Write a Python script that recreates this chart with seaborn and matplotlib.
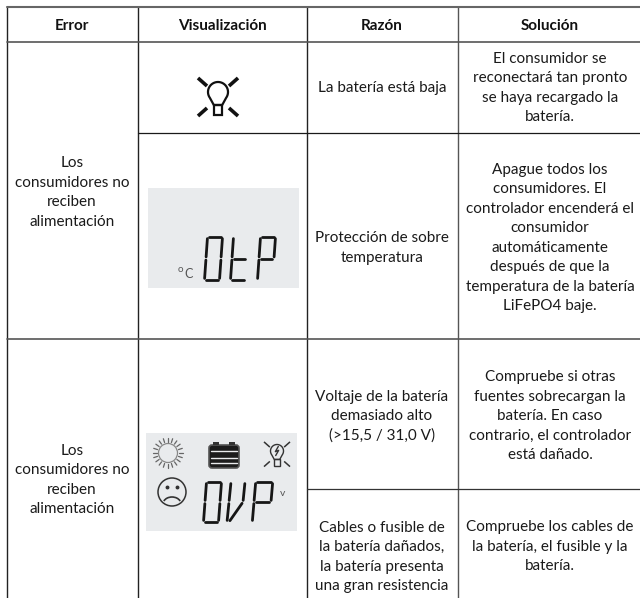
"""Tabla de errores - recreated with seaborn/matplotlib"""
import numpy as np
import matplotlib
matplotlib.use("Agg")
import matplotlib.pyplot as plt
from matplotlib.patches import Rectangle, Circle, FancyBboxPatch, Arc, Polygon
import seaborn as sns

W, H = 640, 598

headers = ["Error", "Visualización", "Razón", "Solución"]
error_text = ["Los", "consumidores no", "reciben", "alimentación"]
reasons = [
    ["La batería está baja"],
    ["Protección de sobre", "temperatura"],
    ["Voltaje de la batería", "demasiado alto", "(>15,5 / 31,0 V)"],
    ["Cables o fusible de", "la batería dañados,", "la batería presenta", "una gran resistencia"],
]
solutions = [
    ["El consumidor se", "reconectará tan pronto", "se haya recargado la", "batería."],
    ["Apague todos los", "consumidores. El", "controlador encenderá el", "consumidor",
     "automáticamente", "después de que la", "temperatura de la batería", "LiFePO4 baje."],
    ["Compruebe si otras", "fuentes sobrecargan la", "batería. En caso", "contrario, el controlador", "está dañado."],
    ["Compruebe los cables de", "la batería, el fusible y la", "batería."],
]
col_x = [6.5, 137.5, 307, 457.5]
col_mid = [72, 222.5, 382, 550]
row_y = [6.5, 41.5, 133, 339, 489]
reason_mid = [88, 248, 416, 557]
solution_mid = [88, 238, 416, 547]
error_mid = [192.5, 480]
PITCH = 19.5
INK = "#1a1a1a"
PANEL = "#e9ebed"

SEGS = {"0": "abcdef", "t": "defg", "P": "abefg"}


def cell_text(ax, x, yc, lines, **kw):
    y0 = yc - PITCH * (len(lines) - 1) / 2
    for i, s in enumerate(lines):
        ax.text(x, y0 + i * PITCH, s, ha="center", va="center", color=INK, fontsize=11, **kw)


def seg_line(ax, p, q, gap=1.6, lw=2.0):
    p, q = np.array(p, float), np.array(q, float)
    d = (q - p) / np.hypot(*(q - p)) * gap
    a, b = p + d, q - d
    ax.plot([a[0], b[0]], [a[1], b[1]], color="#161616", lw=lw, solid_capstyle="round")


def seg7(ax, ch, x, y, w, h):
    s = 0.10 * w
    pts = {"tl": (x + s, y), "tr": (x + w + s, y), "ml": (x, y + h / 2), "mr": (x + w, y + h / 2),
           "bl": (x - s, y + h), "br": (x + w - s, y + h)}
    lines = {"a": ("tl", "tr"), "b": ("tr", "mr"), "c": ("mr", "br"), "d": ("bl", "br"),
             "e": ("ml", "bl"), "f": ("tl", "ml"), "g": ("ml", "mr")}
    for k in SEGS[ch]:
        seg_line(ax, pts[lines[k][0]], pts[lines[k][1]])


def bulb(ax, cx, cy, r, lw, ray_lw, color="#111111", bolt=False):
    # ampolla: arco superior y cuello en un solo contorno
    t = np.radians(np.linspace(-35, 215, 60))
    gx = cx + r * np.cos(t)
    gy = cy - r * np.sin(t)
    outline = np.column_stack([np.r_[gx, cx - 0.42 * r, cx + 0.42 * r],
                               np.r_[gy, cy + 1.3 * r, cy + 1.3 * r]])
    ax.add_patch(Polygon(outline, closed=True, fill=False, ec=color, lw=lw))
    ax.add_patch(Rectangle((cx - 0.42 * r, cy + 1.3 * r), 0.84 * r, 0.95 * r, fill=False, ec=color, lw=lw))
    for sx in (-1, 1):
        ax.plot([cx + sx * 2.0 * r, cx + sx * 1.1 * r], [cy - 1.4 * r, cy - 0.6 * r],
                color=color, lw=ray_lw, solid_capstyle="butt")
        ax.plot([cx + sx * 2.0 * r, cx + sx * 1.1 * r], [cy + 2.4 * r, cy + 1.6 * r],
                color=color, lw=ray_lw, solid_capstyle="butt")
    if bolt:
        ax.plot([cx + 0.2 * r, cx - 0.25 * r, cx + 0.25 * r, cx - 0.2 * r],
                [cy - 0.7 * r, cy + 0.1 * r, cy - 0.1 * r, cy + 0.7 * r], color=color, lw=lw)


sns.set_theme(style="white")
plt.rcParams["font.family"] = ["Lato", "DejaVu Sans"]
fig = plt.figure(figsize=(W / 100, H / 100), dpi=100)
ax = fig.add_axes([0, 0, 1, 1])
ax.set_xlim(0, W); ax.set_ylim(H, 0); ax.axis("off")

# paneles LCD (debajo de la rejilla)
ax.add_patch(Rectangle((148, 188), 151, 100, fc=PANEL, ec="none"))
ax.add_patch(Rectangle((146, 433), 151, 98, fc=PANEL, ec="none"))

# rejilla
for x, c in zip(col_x, ["#222222", "#222222", "#222222", "#555555"]):
    ax.plot([x, x], [row_y[0], H], color=c, lw=1.0)
ax.plot([col_x[0], W], [row_y[0]] * 2, color="#666666", lw=1.5)
ax.plot([col_x[0], W], [row_y[1]] * 2, color="#555555", lw=1.2)
ax.plot([col_x[1], W], [row_y[2]] * 2, color="#1a1a1a", lw=0.9)
ax.plot([col_x[0], W], [row_y[3]] * 2, color="#555555", lw=1.2)
ax.plot([col_x[2], W], [row_y[4]] * 2, color="#333333", lw=0.9)

for x, t in zip(col_mid, headers):
    ax.text(x, 26, t, ha="center", va="center", fontsize=11, fontweight="bold", color="#111111")

for yc in error_mid:
    cell_text(ax, col_mid[0], yc, error_text)
for lines, yc in zip(reasons, reason_mid):
    cell_text(ax, col_mid[2], yc, lines)
for lines, yc in zip(solutions, solution_mid):
    cell_text(ax, col_mid[3], yc, lines)

# icono de bateria baja
bulb(ax, 218, 92, 10, lw=1.6, ray_lw=2.6)

# pantalla OtP
ax.text(180, 270, "o", fontsize=7, color="#555555", ha="center", va="center")
ax.text(188.5, 274, "C", fontsize=9, color="#555555", ha="center", va="center")
for ch, x in zip("0tP", [206, 232, 259]):
    seg7(ax, ch, x, 237, 15, 43)

# pantalla OVP
for a in np.radians(np.arange(0, 360, 18)):
    ax.plot([168 + 11 * np.cos(a), 168 + 15 * np.cos(a)], [453 + 11 * np.sin(a), 453 + 15 * np.sin(a)],
            color="#666666", lw=0.9)
ax.add_patch(Circle((168, 453), 9.5, fill=False, ec="#888888", lw=0.9))

ax.add_patch(FancyBboxPatch((209, 445), 30, 23, boxstyle="round,pad=0,rounding_size=3", fc="#1c1c1c", ec="#555555", lw=1.2))
for x in [213, 229]:
    ax.add_patch(Rectangle((x, 442), 6, 3, fc="#333333", ec="none"))
for y in [451, 457.5, 463]:
    ax.plot([211, 237], [y, y], color=PANEL, lw=1.0)

bulb(ax, 277, 451, 6.5, lw=1.0, ray_lw=1.1, color="#333333", bolt=True)

ax.add_patch(Circle((172, 492), 14, fill=False, ec="#333333", lw=1.1))
ax.plot([167, 177], [487, 487], ls="none", marker="o", ms=1.8, color="#333333")
ax.add_patch(Arc((172, 504), 18, 14, theta1=200, theta2=340, ec="#333333", lw=1.2))

seg7(ax, "0", 205, 482, 15, 40)
# la V del display: lados izquierdos, diagonal y lado derecho superior
seg_line(ax, (231, 482), (229, 502))
seg_line(ax, (229, 502), (227, 522))
seg_line(ax, (243, 502), (229, 522))
seg_line(ax, (245, 482), (243, 502))
seg7(ax, "P", 254, 482, 17, 40)
ax.text(283, 493, "v", fontsize=7.5, color="#555555", ha="center", va="center")

fig.savefig("out.png", dpi=100)
plt.close(fig)
